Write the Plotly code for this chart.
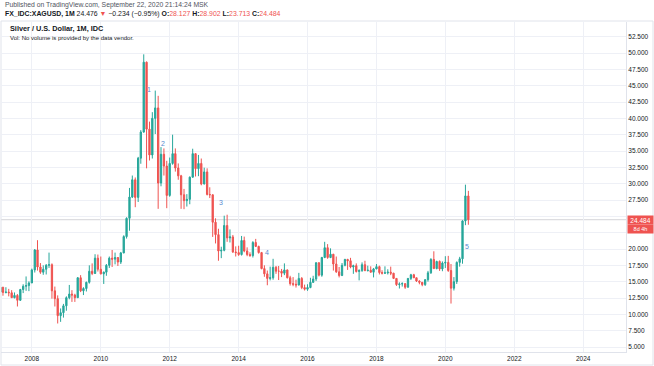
import plotly.graph_objects as go
import pandas as pd

# ---------------- data (monthly XAGUSD) ----------------
months = pd.date_range("2007-01-01", "2020-09-01", freq="MS")

opens = [
    12.90, 13.40, 14.15, 13.35, 13.40, 13.30, 12.55, 12.90, 12.15, 13.80, 14.30, 14.40,  # 2007
    14.80, 16.80, 19.85, 17.25, 16.45, 16.90, 17.50, 17.60, 13.60, 12.40, 9.80, 10.25,   # 2008
    11.30, 12.55, 13.10, 12.95, 12.55, 15.60, 13.60, 13.95, 14.90, 16.60, 16.25, 18.60,  # 2009
    16.90, 16.20, 16.45, 17.50, 18.60, 18.45, 18.70, 18.00, 19.40, 21.90, 24.70, 27.95,  # 2010
    30.60, 27.90, 33.90, 37.90, 48.60, 38.35, 34.40, 40.00, 41.60, 30.10, 34.50, 32.70,  # 2011
    28.20, 33.10, 34.60, 32.40, 31.20, 28.30, 27.40, 27.60, 31.00, 34.60, 32.30, 33.10,  # 2012
    29.95, 31.80, 28.35, 28.30, 24.10, 22.20, 19.70, 19.80, 23.60, 21.70, 21.85, 19.55,  # 2013
    19.45, 19.15, 21.30, 19.70, 19.15, 19.00, 21.00, 20.40, 19.45, 17.00, 16.20, 15.50,  # 2014
    15.60, 17.20, 16.60, 16.60, 16.30, 16.80, 15.60, 14.70, 14.60, 14.50, 15.50, 14.10,  # 2015
    13.85, 14.10, 14.90, 15.40, 17.90, 16.00, 18.70, 20.20, 18.70, 19.20, 17.70, 16.50,  # 2016
    15.95, 17.50, 18.40, 18.20, 17.25, 17.45, 16.55, 16.70, 17.60, 16.70, 16.75, 16.45,  # 2017
    16.95, 17.30, 16.40, 16.30, 16.35, 16.45, 16.30, 15.50, 14.55, 14.65, 14.70, 14.15,  # 2018
    15.50, 16.05, 15.60, 15.10, 14.90, 14.55, 15.30, 16.35, 18.40, 17.00, 18.10, 16.95,  # 2019
    17.85, 17.95, 16.70, 14.00, 15.00, 17.95, 18.50, 24.30, 28.127,                      # 2020
]
highs = [
    13.45, 14.60, 14.20, 14.15, 13.90, 13.70, 13.35, 13.10, 13.90, 14.60, 15.80, 15.05,
    17.00, 20.00, 21.35, 17.85, 17.50, 17.70, 19.45, 17.80, 14.25, 12.90, 10.90, 11.60,
    12.75, 14.50, 13.70, 13.15, 15.70, 16.00, 14.15, 15.00, 17.50, 17.80, 19.20, 19.15,
    18.85, 16.55, 17.70, 18.85, 19.85, 19.45, 18.75, 19.55, 22.10, 24.85, 29.35, 31.25,
    30.95, 34.10, 38.20, 49.80, 48.70, 39.50, 40.95, 44.25, 43.45, 35.60, 35.40, 33.50,
    34.00, 37.50, 35.40, 33.10, 31.35, 29.20, 28.40, 31.10, 35.35, 34.60, 34.40, 33.85,
    32.45, 32.35, 29.45, 28.35, 24.70, 23.10, 20.35, 25.10, 25.25, 23.00, 22.15, 20.40,
    20.50, 22.00, 21.90, 20.25, 19.50, 21.20, 21.55, 20.50, 19.55, 17.50, 16.70, 17.30,
    18.50, 17.40, 17.40, 16.95, 17.80, 16.85, 15.90, 15.70, 15.30, 16.35, 15.70, 14.55,
    14.60, 15.60, 15.90, 17.95, 17.95, 18.80, 21.10, 20.75, 20.10, 19.25, 18.85, 17.25,
    17.85, 18.50, 18.50, 18.65, 17.60, 17.80, 16.90, 17.95, 18.20, 17.45, 17.35, 17.10,
    17.70, 17.45, 16.75, 17.35, 16.90, 17.30, 16.35, 15.55, 14.90, 14.90, 14.75, 15.55,
    16.20, 16.20, 15.60, 15.20, 14.95, 15.40, 16.65, 18.60, 19.65, 18.20, 18.25, 18.10,
    18.90, 18.95, 17.70, 15.70, 18.10, 18.80, 24.40, 29.85, 28.902,
]
lows = [
    12.45, 13.30, 12.85, 13.20, 12.75, 12.50, 12.45, 11.20, 12.05, 13.25, 13.60, 13.55,
    14.80, 16.40, 16.70, 16.20, 16.05, 16.10, 17.10, 12.40, 11.20, 8.60, 8.85, 9.50,
    10.55, 12.30, 11.90, 11.90, 12.50, 13.40, 12.95, 13.50, 14.70, 16.00, 16.20, 16.55,
    16.10, 14.65, 15.90, 17.10, 17.25, 17.65, 17.40, 17.70, 19.35, 21.60, 22.80, 27.80,
    26.40, 27.20, 33.05, 37.80, 32.35, 33.55, 33.85, 37.60, 26.15, 29.60, 31.25, 26.25,
    28.00, 32.90, 31.85, 30.60, 26.15, 26.10, 26.50, 26.85, 30.90, 31.10, 31.15, 29.75,
    29.90, 28.20, 27.80, 21.85, 20.85, 18.20, 18.60, 19.65, 21.10, 21.00, 19.40, 18.85,
    18.95, 19.00, 19.50, 18.90, 18.80, 18.70, 20.30, 19.30, 16.90, 15.75, 14.45, 15.20,
    15.30, 16.20, 15.25, 15.70, 16.00, 15.50, 14.40, 14.30, 14.10, 14.40, 13.85, 13.65,
    13.60, 14.00, 14.80, 15.10, 15.80, 15.75, 18.60, 18.50, 18.60, 16.70, 16.35, 15.65,
    15.85, 17.35, 16.80, 17.05, 16.20, 16.40, 15.20, 16.50, 16.60, 16.55, 16.40, 15.65,
    16.90, 16.10, 16.10, 16.20, 16.10, 16.00, 15.40, 14.35, 13.95, 14.25, 13.90, 14.10,
    15.25, 15.55, 14.95, 14.60, 14.30, 14.35, 15.00, 16.20, 16.95, 16.90, 16.65, 16.60,
    17.10, 16.50, 11.65, 13.65, 14.65, 17.30, 17.75, 23.65, 23.713,
]
closes = [
    13.40, 14.15, 13.35, 13.40, 13.30, 12.55, 12.90, 12.15, 13.80, 14.30, 14.40, 14.80,
    16.80, 19.85, 17.25, 16.45, 16.90, 17.50, 17.60, 13.60, 12.40, 9.80, 10.25, 11.30,
    12.55, 13.10, 12.95, 12.55, 15.60, 13.60, 13.95, 14.90, 16.60, 16.25, 18.60, 16.90,
    16.20, 16.45, 17.50, 18.60, 18.45, 18.70, 18.00, 19.40, 21.90, 24.70, 27.95, 30.60,
    27.90, 33.90, 37.90, 48.60, 38.35, 34.40, 40.00, 41.60, 30.10, 34.50, 32.70, 28.20,
    33.10, 34.60, 32.40, 31.20, 28.30, 27.40, 27.60, 31.00, 34.60, 32.30, 33.10, 29.95,
    31.80, 28.35, 28.30, 24.10, 22.20, 19.70, 19.80, 23.60, 21.70, 21.85, 19.55, 19.45,
    19.15, 21.30, 19.70, 19.15, 19.00, 21.00, 20.40, 19.45, 17.00, 16.20, 15.50, 15.60,
    17.20, 16.60, 16.60, 16.30, 16.80, 15.60, 14.70, 14.60, 14.50, 15.50, 14.10, 13.85,
    14.10, 14.90, 15.40, 17.90, 16.00, 18.70, 20.20, 18.70, 19.20, 17.70, 16.50, 15.95,
    17.50, 18.40, 18.20, 17.25, 17.45, 16.55, 16.70, 17.60, 16.70, 16.75, 16.45, 16.95,
    17.30, 16.40, 16.30, 16.35, 16.45, 16.30, 15.50, 14.55, 14.65, 14.70, 14.15, 15.50,
    16.05, 15.60, 15.10, 14.90, 14.55, 15.30, 16.35, 18.40, 17.00, 18.10, 16.95, 17.85,
    17.95, 16.70, 14.00, 15.00, 17.95, 18.50, 24.30, 28.127, 24.484,
]

# price-scale ticks (labels 22.500 / 25.000 sit under the last-price boxes)
price_ticks = [5.0, 7.5, 10.0, 12.5, 15.0, 17.5, 20.0, 22.5, 25.0, 27.5, 30.0,
               32.5, 35.0, 37.5, 40.0, 42.5, 45.0, 47.5, 50.0, 52.5]
hidden_ticks = [22.5, 25.0]

wave_labels = ["1", "2", "3", "4", "5"]
wave_dates = ["2011-05-25", "2011-10-21", "2013-06-28", "2014-10-28", "2020-08-15"]
wave_prices = [44.4, 36.2, 27.05, 19.4, 20.4]

last_price = closes[-1]
countdown = "8d 4h"

# ---------------- styling ----------------
GREEN = "#26a69a"
RED = "#ef5350"
GRID = "#eef0f6"
AXLINE = "#e0e3eb"
TXT = "#131722"
FONT = "Liberation Sans, Arial, sans-serif"

fig = go.Figure(go.Candlestick(
    x=months, open=opens, high=highs, low=lows, close=closes,
    increasing=dict(line=dict(color=GREEN, width=1), fillcolor=GREEN),
    decreasing=dict(line=dict(color=RED, width=1), fillcolor=RED),
    whiskerwidth=0, hoverinfo="skip",
))

# current price line
fig.add_shape(type="line", xref="paper", x0=0, x1=1, yref="y", y0=last_price, y1=last_price,
              line=dict(color="#d4d4d8", width=1), layer="below")

# Pane geometry (pixels)
PL, PR, PT, PB = 1, 626, 22, 352
W = PR - PL
H = PB - PT


def px(xp):
    return (xp - PL) / W


def py(yp):
    return (PB - yp) / H


fig.add_shape(type="rect", xref="paper", yref="paper",
              x0=px(1), x1=px(653), y0=py(21), y1=py(365),
              line=dict(color=AXLINE, width=1), layer="below")

ann = []
ann.append(dict(xref="paper", yref="paper", x=px(3), y=py(5), xanchor="left", yanchor="middle",
                showarrow=False, font=dict(size=6.8, color="#50535e", family=FONT),
                text="Published on TradingView.com, September 22, 2020 21:14:24 MSK"))
ann.append(dict(xref="paper", yref="paper", x=px(3), y=py(14), xanchor="left", yanchor="middle",
                showarrow=False, font=dict(size=6.9, color=TXT, family=FONT),
                text=("<b>FX_IDC:XAGUSD, 1M</b> 24.476 <span style='color:%s'>▼</span> −0.234 (−0.95%%) "
                      "<b>O:</b><span style='color:%s'>28.127</span> "
                      "<b>H:</b><span style='color:%s'>28.902</span> "
                      "<b>L:</b><span style='color:%s'>23.713</span> "
                      "<b>C:</b><span style='color:%s'>24.484</span>") % (RED, RED, RED, RED, RED)))
ann.append(dict(xref="paper", yref="paper", x=px(8), y=py(28.5), xanchor="left", yanchor="middle",
                showarrow=False, font=dict(size=7.3, color=TXT, family=FONT),
                text="<b>Silver / U.S. Dollar, 1M, IDC</b>"))
ann.append(dict(xref="paper", yref="paper", x=px(8), y=py(37.5), xanchor="left", yanchor="middle",
                showarrow=False, font=dict(size=6, color=TXT, family=FONT),
                text="Vol: No volume is provided by the data vendor."))

for lab, d, p in zip(wave_labels, wave_dates, wave_prices):
    ann.append(dict(x=d, y=p, xref="x", yref="y", text=lab, showarrow=False,
                    font=dict(size=7, color="#5a8ad0", family=FONT)))

# price scale labels
ann.append(dict(xref="paper", yref="paper", x=1, y=py(219.6), xanchor="left", yanchor="middle",
                showarrow=False, text=str(last_price), bgcolor=RED, width=23, height=6,
                borderpad=1, font=dict(size=6.5, color="white", family=FONT), xshift=1))
ann.append(dict(xref="paper", yref="paper", x=1, y=py(228.6), xanchor="left", yanchor="middle",
                showarrow=False, text=countdown, bgcolor=RED, width=23, height=6,
                borderpad=1, font=dict(size=5.5, color="white", family=FONT), xshift=1))

tick_text = ["" if v in hidden_ticks else f"{v:.3f}" for v in price_ticks]

fig.update_layout(
    width=654, height=366,
    margin=dict(l=PL, r=654 - PR, t=PT, b=366 - PB),
    paper_bgcolor="white", plot_bgcolor="white",
    showlegend=False,
    font=dict(family=FONT, size=6.5, color=TXT),
    annotations=ann,
    xaxis=dict(type="date", range=["2007-02-08", "2025-03-30"],
               rangeslider=dict(visible=False),
               tickmode="linear", tick0="2008-01-01", dtick="M24", tickformat="%Y",
               showgrid=True, gridcolor=GRID, gridwidth=1,
               showline=True, linecolor=AXLINE, linewidth=1,
               ticks="", tickfont=dict(size=6.5, color=TXT, family=FONT),
               zeroline=False, fixedrange=True),
    yaxis=dict(side="right", range=[4.234, 54.75],
               tickmode="array", tickvals=price_ticks, ticktext=tick_text,
               showgrid=True, gridcolor=GRID, gridwidth=1,
               showline=True, linecolor=AXLINE, linewidth=1,
               ticks="", tickfont=dict(size=6.5, color=TXT, family=FONT),
               zeroline=False, fixedrange=True),
)

fig.write_html("out.html", config={"displayModeBar": False},
               post_script="document.body.style.margin='0';document.body.style.padding='0';")
